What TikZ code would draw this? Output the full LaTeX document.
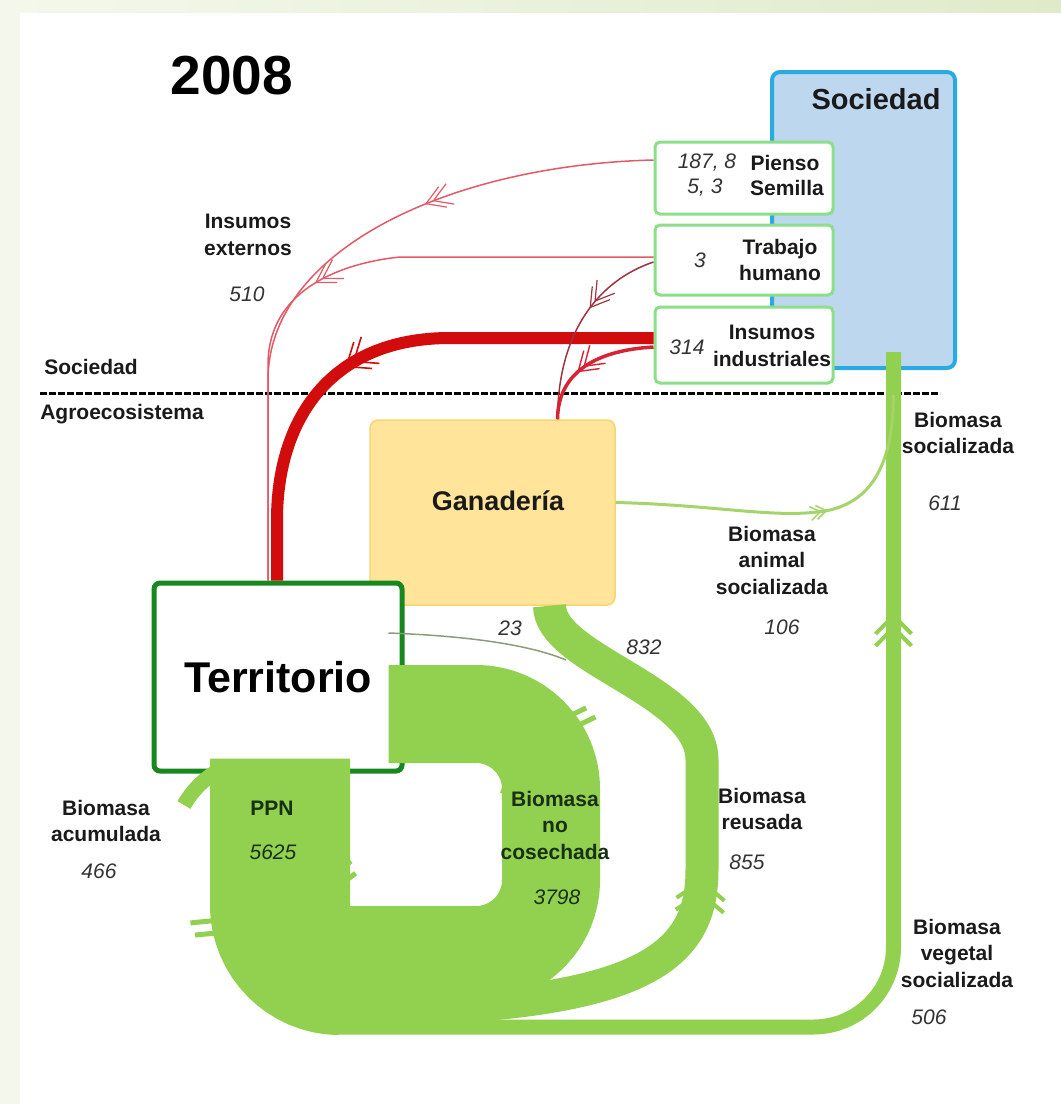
\documentclass[tikz,border=0pt]{standalone}
\usepackage{fontspec}
\setmainfont{Liberation Sans}
\usetikzlibrary{decorations.markings}

\definecolor{flowgreen}{RGB}{146,208,80}
\definecolor{animalgreen}{RGB}{165,212,106}
\definecolor{boxgreen}{RGB}{140,222,136}
\definecolor{terrgreen}{RGB}{24,136,30}
\definecolor{socblue}{RGB}{189,215,238}
\definecolor{socedge}{RGB}{41,171,226}
\definecolor{ganfill}{RGB}{255,228,153}
\definecolor{ganedge}{RGB}{246,214,112}
\definecolor{inred}{RGB}{210,12,12}
\definecolor{thinred}{RGB}{226,90,104}
\definecolor{darkred}{RGB}{156,52,66}
\definecolor{midred}{RGB}{214,36,52}
\definecolor{numgrey}{RGB}{51,51,51}
\definecolor{txtdark}{RGB}{26,26,26}
\definecolor{ongreen}{RGB}{26,48,20}
\definecolor{greyline}{RGB}{140,156,124}
\definecolor{tintL}{RGB}{244,248,236}
\definecolor{tintR}{RGB}{224,234,202}

\newcommand{\lblfont}{\fontsize{21}{26.5}\selectfont\bfseries}
\newcommand{\numfont}{\fontsize{21}{26.5}\selectfont\itshape}

\tikzset{
  lbl/.style={font=\lblfont, text=txtdark, align=center, inner sep=0pt},
  num/.style={font=\numfont, text=numgrey, inner sep=0pt},
  inbox/.style={draw=boxgreen, line width=3pt, fill=white, rounded corners=5pt, minimum width=178pt},
  chevs/.style n args={5}{postaction={decorate,decoration={markings,
      mark=at position #1 with {\draw[line width=#4, sharp corners, line cap=butt, line join=miter]
        (-#3,#2) -- (0pt,0pt) -- (-#3,-#2)
        (-#3-#5,#2) -- (-#5,0pt) -- (-#3-#5,-#2);}}}}
}

\begin{document}
\begin{tikzpicture}[x=1pt, y=-1pt]
\useasboundingbox (0,0) rectangle (1061,1104);

% paper
\fill[white] (0,0) rectangle (1061,1104);
\fill[tintL] (0,0) rectangle (20,1104);
\shade[left color=tintL, right color=tintR] (0,0) rectangle (1061,12);

% border Sociedad / Agroecosistema
\draw[line width=3pt, dash pattern=on 7pt off 2pt] (40,393) -- (940,393);

% Sociedad
\node[draw=socedge, line width=4pt, fill=socblue, rounded corners=8pt, minimum width=183pt, minimum height=296pt, inner sep=0pt] (soc) at (863.5,220) {};
\node[inbox, minimum height=72pt] (pienso) at (744,178) {};
\node[inbox, minimum height=70pt] (trabajo) at (744,260) {};
\node[inbox, minimum height=76pt] (ind) at (744,345) {};

% Agroecosistema
\node[draw=ganedge, line width=1.5pt, fill=ganfill, rounded corners=8pt, minimum width=245pt, minimum height=185pt] (gan) at (492.5,512.5) {};
\node[draw=terrgreen, line width=5pt, fill=white, rounded corners=6pt, minimum width=248pt, minimum height=188pt, font=\fontsize{43}{50}\selectfont\bfseries] (terr) at (278,677) {Territorio};

% Insumos externos
\draw[inred, line width=12pt, chevs={0.57}{16pt}{20pt}{1.6pt}{9pt}] ([yshift=7pt]ind.west) -- (450,338) .. controls (330,338) and (277,420) .. (277,520) -- ([xshift=-1pt]terr.north);
\draw[thinred, line width=1.5pt, chevs={0.34}{11pt}{18pt}{1.2pt}{8pt}] ([yshift=18pt]pienso.west) .. controls (450,165) and (268,250) .. (268,380) -- ([xshift=-10pt]terr.north);
\draw[thinred, line width=1.5pt, chevs={0.52}{11pt}{18pt}{1.2pt}{8pt}] ([yshift=3pt]trabajo.west) -- (400,257) .. controls (350,262) and (268,285) .. (268,365) -- ([xshift=-10pt]terr.north);
\draw[darkred, line width=1.5pt, chevs={0.4}{11pt}{18pt}{1.2pt}{8pt}] ([yshift=-2pt]trabajo.west) .. controls (600,280) and (558,330) .. ([xshift=65pt]gan.north);
\draw[midred, line width=3.5pt, chevs={0.6}{12pt}{18pt}{1.4pt}{8pt}] ([yshift=-2pt]ind.west) .. controls (600,350) and (558,370) .. ([xshift=65pt]gan.north);

% Biomasa flows
\coordinate (acum) at (184,805);
\coordinate (join) at (893.5,395);
\coordinate (merge) at (566,660);
\draw[flowgreen, line width=15pt] ([xshift=-56pt,yshift=5pt]terr.south) .. controls (206,777) and (193,789) .. (acum);
\draw[flowgreen, line width=140pt, rounded corners=60pt, chevs={0.7}{86pt}{24pt}{5pt}{13pt}] ([xshift=2pt,yshift=15pt]terr.south) -- (280,965) -- (340,965);
\draw[flowgreen, line width=98pt, rounded corners=75pt, chevs={0.74}{60pt}{22pt}{5pt}{13pt}] (330,955) -- (551,955) -- (551,714) -- ([xshift=-16pt,yshift=-37pt]terr.east);
\draw[flowgreen, line width=33pt, chevs={0.55}{24pt}{18pt}{4pt}{12pt}] (335,1010) .. controls (640,1010) and (702,960) .. (702,870) -- (702,760) .. controls (702,690) and (550,660) .. ([xshift=57pt]gan.south);
\draw[flowgreen, line width=15pt, rounded corners=80pt, chevs={0.78}{18pt}{18pt}{4pt}{12pt}] (335,1027) -- (893.5,1027) -- ([xshift=30pt,yshift=18pt]soc.south);
\draw[animalgreen, line width=3pt, chevs={0.59}{7pt}{10pt}{1.5pt}{6pt}] ([yshift=10pt]gan.east) .. controls (720,505) and (780,520) .. (830,510) .. controls (880,498) and (893,450) .. (join);
\draw[greyline, line width=1.5pt] ([xshift=-16pt,yshift=44pt]terr.east) .. controls (470,636) and (530,645) .. (merge);

% texts
\node[lbl, font=\fontsize{55}{60}\selectfont\bfseries, text=black] (year) at (232,76) {2008};
\node[lbl, font=\fontsize{29}{34}\selectfont\bfseries] (soctxt) at (876,99) {Sociedad};
\node[num] (piensov) at (707,163) {187, 8};
\node[lbl] (piensol) at (785,163) {Pienso};
\node[num] (semv) at (705,188) {5, 3};
\node[lbl] (seml) at (787,188) {Semilla};
\node[num] (trabv) at (700,260) {3};
\node[lbl] (trabl) at (780,260) {Trabajo\\humano};
\node[num] (indv) at (687,347) {314};
\node[lbl] (indl) at (772,346) {Insumos\\industriales};
\node[lbl] (socl) at (91,367) {Sociedad};
\node[lbl] (agrol) at (122,414) {Agroecosistema};
\node[lbl, font=\fontsize{27}{32}\selectfont\bfseries] (gantxt) at (498,501) {Ganadería};
\node[lbl] (extl) at (248,235) {Insumos\\externos};
\node[num] (extv) at (247,294) {510};
\node[lbl] (bsl) at (958,433) {Biomasa\\socializada};
\node[num] (bsv) at (945,503) {611};
\node[lbl] (bal) at (772,560) {Biomasa\\animal\\socializada};
\node[num] (bav) at (782,627) {106};
\node[num] (v23) at (510,628) {23};
\node[num] (v832) at (644,647) {832};
\node[lbl] (acl) at (106,821) {Biomasa\\acumulada};
\node[num] (acv) at (99,871) {466};
\node[lbl, text=ongreen] (ppnl) at (272,808) {PPN};
\node[num, text=ongreen] (ppnv) at (273,852) {5625};
\node[lbl, text=ongreen] (ncl) at (555,825) {Biomasa\\no\\cosechada};
\node[num, text=ongreen] (ncv) at (557,897) {3798};
\node[lbl] (rul) at (762,809) {Biomasa\\reusada};
\node[num] (ruv) at (747,862) {855};
\node[lbl] (vgl) at (957,953) {Biomasa\\vegetal\\socializada};
\node[num] (vgv) at (929,1017) {506};
\end{tikzpicture}
\end{document}
